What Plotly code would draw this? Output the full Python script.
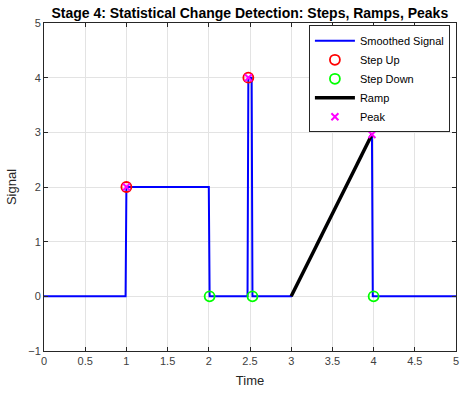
import plotly.graph_objects as go

# Data
time = [0, 0.99, 1.0, 2.0, 2.01, 2.47, 2.48, 2.52, 2.53, 3.0, 3.98, 3.99, 5.0]
signal = [0, 0, 2, 2, 0, 0, 4, 4, 0, 0, 2.96, 0, 0]
step_up_t = [1.0, 2.48]
step_up_v = [2, 4]
step_down_t = [2.01, 2.53, 4.0]
step_down_v = [0, 0, 0]
ramp_t = [3.0, 3.98]
ramp_v = [0, 2.96]
peak_t = [1.0, 2.48, 3.98]
peak_v = [2, 4, 2.96]
x_ticks = [0, 0.5, 1, 1.5, 2, 2.5, 3, 3.5, 4, 4.5, 5]
x_tick_labels = ["0", "0.5", "1", "1.5", "2", "2.5", "3", "3.5", "4", "4.5", "5"]
y_ticks = [-1, 0, 1, 2, 3, 4, 5]

FONT = "Liberation Sans, Arial, Helvetica, sans-serif"

fig = go.Figure()
fig.add_trace(go.Scatter(x=time, y=signal, mode="lines", name="Smoothed Signal",
                         line=dict(color="#0000ff", width=2)))
fig.add_trace(go.Scatter(x=step_up_t, y=step_up_v, mode="markers", name="Step Up",
                         marker=dict(symbol="circle-open", color="#ff0000", size=10,
                                     line=dict(width=1.8, color="#ff0000"))))
fig.add_trace(go.Scatter(x=step_down_t, y=step_down_v, mode="markers", name="Step Down",
                         marker=dict(symbol="circle-open", color="#00ff00", size=10,
                                     line=dict(width=1.8, color="#00ff00"))))
fig.add_trace(go.Scatter(x=ramp_t, y=ramp_v, mode="lines", name="Ramp",
                         line=dict(color="#000000", width=3.5)))
fig.add_trace(go.Scatter(x=peak_t, y=peak_v, mode="markers", name="Peak",
                         marker=dict(symbol="x-thin-open", color="#ff00ff", size=7,
                                     line=dict(width=2, color="#ff00ff"))))

axis_common = dict(
    showgrid=True, gridcolor="#e3e3e3", gridwidth=1,
    showline=True, linecolor="#262626", linewidth=1, mirror="ticks",
    ticks="inside", ticklen=4, tickcolor="#262626",
    tickfont=dict(family=FONT, size=11, color="#404040"),
    zeroline=False, ticklabeloverflow="allow",
)

fig.update_layout(
    width=460, height=394,
    margin=dict(l=44, r=1, t=23, b=43),
    paper_bgcolor="white", plot_bgcolor="white",
    title=dict(text="<b>Stage 4: Statistical Change Detection: Steps, Ramps, Peaks</b>",
               x=0.543, xanchor="center", y=0.968, yanchor="middle",
               font=dict(family=FONT, size=14, color="#000000")),
    xaxis=dict(range=[0, 5], tickvals=x_ticks, ticktext=x_tick_labels,
               title=dict(text="Time", font=dict(family=FONT, size=13, color="#262626"), standoff=9),
               **axis_common),
    yaxis=dict(range=[-1, 5], tickvals=y_ticks,
               title=dict(text="Signal", font=dict(family=FONT, size=13, color="#262626"), standoff=8),
               **axis_common),
    legend=dict(x=0.643, y=0.993, xanchor="left", yanchor="top",
                bgcolor="white", bordercolor="#262626", borderwidth=1,
                font=dict(family=FONT, size=11, color="#000000"),
                tracegroupgap=0, itemwidth=40),
    showlegend=True,
)

fig.write_html("out.html", config={"displayModeBar": False},
               post_script="document.body.style.margin='0';document.body.style.overflow='hidden';window.dispatchEvent(new Event('resize'));")
